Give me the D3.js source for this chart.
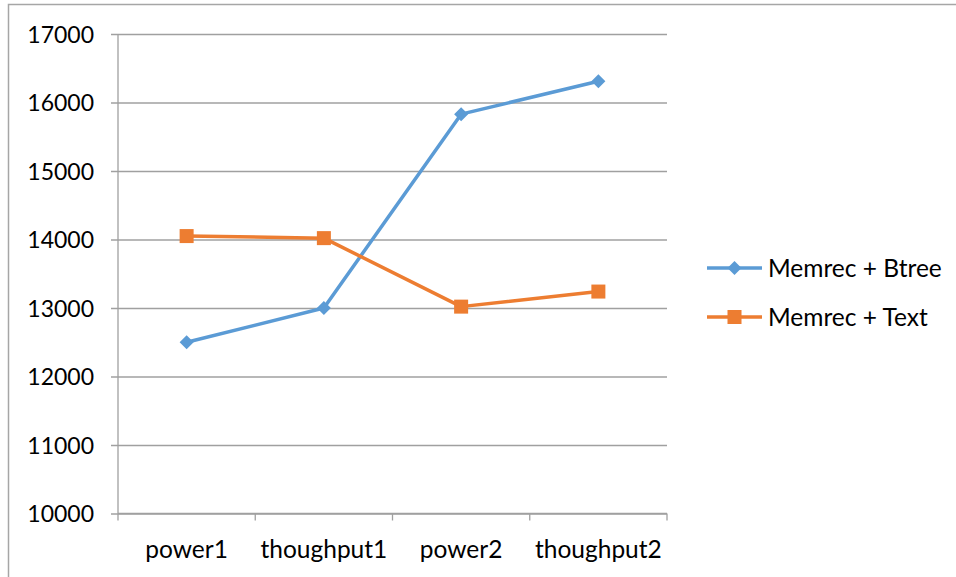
<!DOCTYPE html>
<html>
<head>
<meta charset="utf-8">
<script src="https://cdnjs.cloudflare.com/ajax/libs/d3/7.8.5/d3.min.js"></script>
<style>
  html, body { margin: 0; padding: 0; background: #fff; }
  svg { display: block; }
  text { font-family: Lato, "Open Sans", "Liberation Sans", sans-serif; fill: #000; }
</style>
</head>
<body>
<svg id="chart" width="956" height="577"></svg>
<script>
// Categories along the x axis
const categories = ["power1", "thoughput1", "power2", "thoughput2"];
// Series names and values
const seriesNames = ["Memrec + Btree", "Memrec + Text"];
const btreeValues = [12500, 13000, 15830, 16310];
const textValues = [14050, 14020, 13020, 13240];
// Y axis tick values
const yTicks = [10000, 11000, 12000, 13000, 14000, 15000, 16000, 17000];

const colors = ["#5B9BD5", "#ED7D31"];
const series = [
  { name: seriesNames[0], values: btreeValues, color: colors[0], marker: "diamond" },
  { name: seriesNames[1], values: textValues, color: colors[1], marker: "square" }
];

const svg = d3.select("#chart");

// Outer chart frame (top and left edges visible)
svg.append("path")
  .attr("d", "M8.5,577 L8.5,4.5 L956,4.5")
  .attr("fill", "none")
  .attr("stroke", "#a6a6a6")
  .attr("stroke-width", 1.5);

const plot = { left: 118, right: 667, top: 34, bottom: 513.5 };

const x = d3.scaleBand().domain(categories).range([plot.left, plot.right]);
const y = d3.scaleLinear().domain([10000, 17000]).range([plot.bottom, plot.top]);

// Horizontal gridlines with short tick stubs on the left
const yAxis = d3.axisLeft(y).tickValues(yTicks).tickSize(-(plot.right - plot.left)).tickFormat(d => d);
const gy = svg.append("g").attr("transform", `translate(${plot.left},0)`).call(yAxis);
gy.select(".domain").remove();
gy.selectAll(".tick line")
  .attr("x1", -7)
  .attr("stroke", "#a0a0a0")
  .attr("stroke-width", 1.3);
gy.selectAll(".tick text")
  .attr("x", -24)
  .attr("dy", "0.36em")
  .style("font-size", "23px")
  .style("font-family", "Lato, 'Open Sans', sans-serif")
  .attr("fill", "#000");

// Vertical y axis line
svg.append("line")
  .attr("x1", plot.left).attr("x2", plot.left)
  .attr("y1", plot.top).attr("y2", plot.bottom)
  .attr("stroke", "#a0a0a0").attr("stroke-width", 1.3);

// X axis with ticks at category boundaries
const gx = svg.append("g").attr("transform", `translate(0,${plot.bottom})`);
gx.append("line")
  .attr("x1", plot.left).attr("x2", plot.right)
  .attr("stroke", "#a0a0a0").attr("stroke-width", 1.3);
const boundaries = categories.map(c => x(c)).concat([x(categories[categories.length - 1]) + x.bandwidth()]);
gx.selectAll("line.tk").data(boundaries).enter().append("line")
  .attr("class", "tk")
  .attr("x1", d => d).attr("x2", d => d)
  .attr("y1", 0).attr("y2", 7)
  .attr("stroke", "#a0a0a0").attr("stroke-width", 1.3);
gx.selectAll("text").data(categories).enter().append("text")
  .attr("x", d => x(d) + x.bandwidth() / 2)
  .attr("y", 44)
  .attr("text-anchor", "middle")
  .style("font-size", "24.5px")
  .text(d => d);

const cx = d => x(d) + x.bandwidth() / 2;

function drawMarker(g, type, color) {
  if (type === "diamond") {
    g.append("path").attr("d", "M0,-7 L7,0 L0,7 L-7,0 Z").attr("fill", color);
  } else {
    g.append("rect").attr("x", -7).attr("y", -7).attr("width", 14).attr("height", 14).attr("fill", color);
  }
}

const line = d3.line().x((d, i) => cx(categories[i])).y(d => y(d));

series.forEach(s => {
  svg.append("path")
    .datum(s.values)
    .attr("d", line)
    .attr("fill", "none")
    .attr("stroke", s.color)
    .attr("stroke-width", 3.5)
    .attr("stroke-linejoin", "round");
  s.values.forEach((v, i) => {
    const g = svg.append("g").attr("transform", `translate(${cx(categories[i])},${y(v)})`);
    drawMarker(g, s.marker, s.color);
  });
});

// Legend
const legend = svg.append("g");
series.forEach((s, i) => {
  const ly = 268 + i * 49;
  const g = legend.append("g").attr("transform", `translate(0,${ly})`);
  g.append("line").attr("x1", 707).attr("x2", 762).attr("y1", 0).attr("y2", 0)
    .attr("stroke", s.color).attr("stroke-width", 3.5);
  const m = g.append("g").attr("transform", "translate(734.5,0)");
  drawMarker(m, s.marker, s.color);
  g.append("text").attr("x", 768).attr("y", 0).attr("dy", "0.36em")
    .style("font-size", "24.5px").text(s.name);
});
</script>
</body>
</html>
